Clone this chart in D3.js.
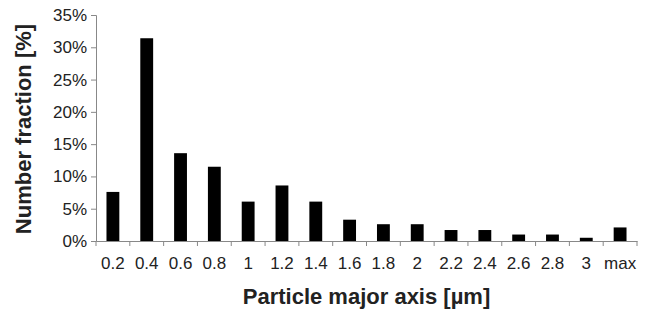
<!DOCTYPE html>
<html>
<head>
<meta charset="utf-8">
<script src="https://cdn.jsdelivr.net/npm/d3@7"></script>
<style>
  body { margin: 0; background: #fff; }
  svg text { font-family: "Liberation Sans", Arial, sans-serif; fill: #222; }
</style>
</head>
<body>
<div id="chart"></div>
<script>
// particle size classes (upper bin edge, µm)
var categories = ["0.2", "0.4", "0.6", "0.8", "1", "1.2", "1.4", "1.6", "1.8", "2",
                  "2.2", "2.4", "2.6", "2.8", "3", "max"];
// number fraction, %
var fractions = [7.6, 31.4, 13.6, 11.5, 6.1, 8.6, 6.1, 3.3, 2.6, 2.6,
                 1.7, 1.7, 1.0, 1.0, 0.5, 2.1];
var yTicks = [0, 5, 10, 15, 20, 25, 30, 35];

var width = 652,
    height = 310,
    margin = {top: 15, right: 15, bottom: 69, left: 96};

var svg = d3.select("#chart").append("svg")
    .attr("width", width)
    .attr("height", height);

var x = d3.scaleBand()
    .domain(categories)
    .range([margin.left, width - margin.right])
    .paddingInner(0.62)
    .paddingOuter(0.31);

var y = d3.scaleLinear()
    .domain([0, 35])
    .range([height - margin.bottom, margin.top]);

// bars
svg.selectAll("rect.bar")
    .data(fractions)
    .enter().append("rect")
        .attr("class", "bar")
        .attr("x", function(d, i) { return x(categories[i]); })
        .attr("y", function(d) { return y(d); })
        .attr("width", x.bandwidth())
        .attr("height", function(d) { return y(0) - y(d); })
        .attr("fill", "#000");

// y axis
var yAxis = svg.append("g")
    .attr("transform", "translate(" + margin.left + ",0)")
    .call(d3.axisLeft(y).tickValues(yTicks).tickSize(5).tickPadding(4)
        .tickFormat(function(d) { return d + "%"; }));

// x axis, ticks sit on the band edges
var plotW = width - margin.left - margin.right;
var xAxis = svg.append("g")
    .attr("transform", "translate(0," + y(0) + ")")
    .call(d3.axisBottom(x).tickSize(0).tickPadding(16));

xAxis.selectAll(".edge")
    .data(d3.range(categories.length + 1))
    .enter().append("line")
        .attr("class", "edge")
        .attr("x1", function(i) { return margin.left + i * plotW / categories.length; })
        .attr("x2", function(i) { return margin.left + i * plotW / categories.length; })
        .attr("y1", 0)
        .attr("y2", 5);

[yAxis, xAxis].forEach(function(g) {
    g.select(".domain").attr("stroke", "#888");
    g.selectAll("line").attr("stroke", "#888");
    g.selectAll("text")
        .style("font-size", "17px")
        .style("font-family", "'Liberation Sans', Arial, sans-serif")
        .attr("fill", "#333");
});

// axis titles
svg.append("text")
    .attr("x", margin.left + plotW / 2)
    .attr("y", 304)
    .attr("text-anchor", "middle")
    .style("font-size", "22px")
    .style("font-weight", "bold")
    .text("Particle major axis [µm]");

svg.append("text")
    .attr("transform", "translate(31,129) rotate(-90)")
    .attr("text-anchor", "middle")
    .style("font-size", "22px")
    .style("font-weight", "bold")
    .text("Number fraction [%]");
</script>
</body>
</html>
